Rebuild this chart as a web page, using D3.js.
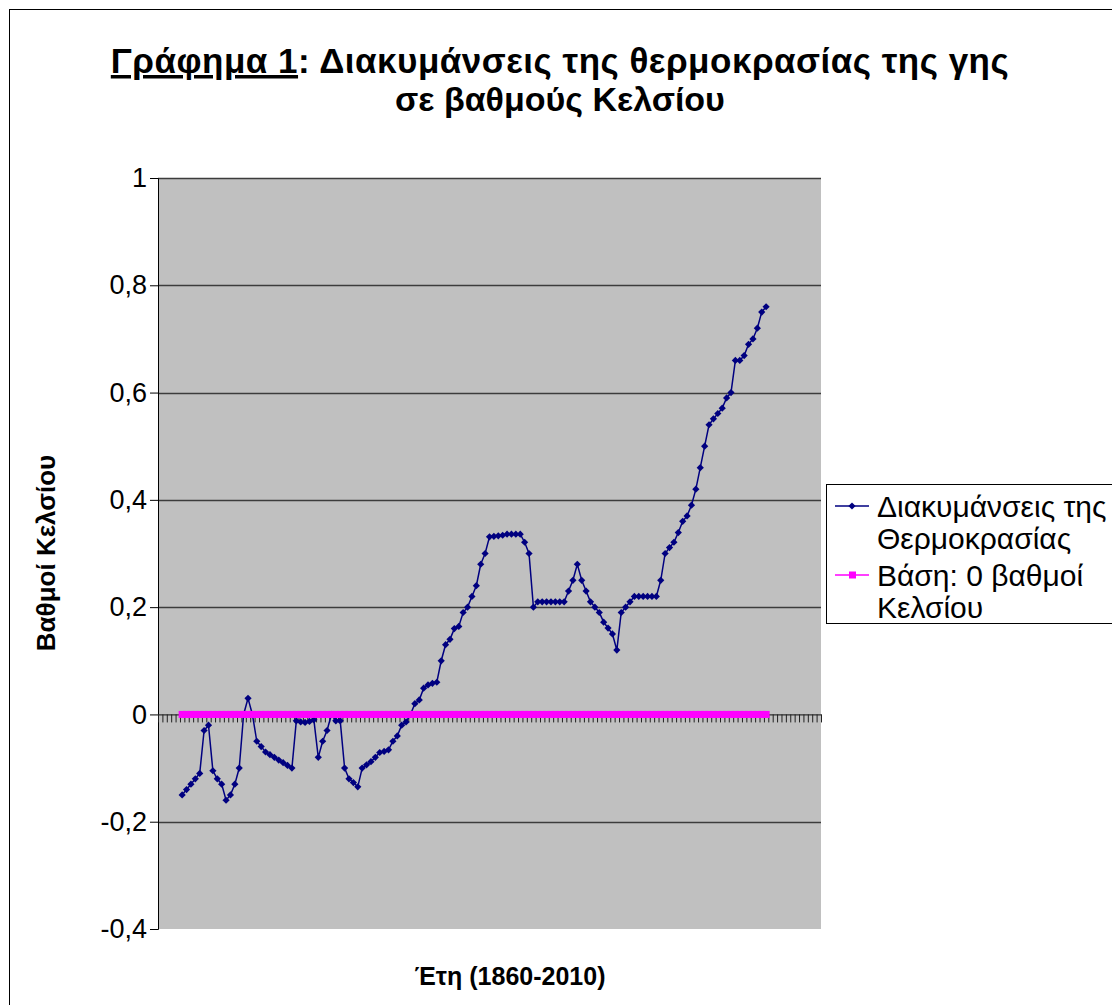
<!DOCTYPE html>
<html>
<head>
<meta charset="utf-8">
<script src="https://cdn.jsdelivr.net/npm/d3@7"></script>
<style>
    body { margin: 0; background: #fff; }
    svg text { font-family: "Liberation Sans", Arial, sans-serif; }
</style>
</head>
<body>
<div id="chart"></div>
<script>
// categories: years on the x axis
const years = d3.range(1860, 2011);
const firstDataYear = 1865;

// temperature deviations, one per year from 1865
const temps = [
    -0.15, -0.14, -0.13, -0.12, -0.11, -0.03, -0.02, -0.105, -0.12, -0.13,
    -0.16, -0.15, -0.13, -0.10, 0.0, 0.03, 0.0, -0.05, -0.06, -0.07,
    -0.075, -0.08, -0.085, -0.09, -0.095, -0.10, -0.012, -0.014, -0.015, -0.013,
    -0.01, -0.08, -0.05, -0.03, 0.0, -0.012, -0.012, -0.10, -0.12, -0.127,
    -0.135, -0.10, -0.094, -0.088, -0.08, -0.071, -0.069, -0.066, -0.05, -0.04,
    -0.02, -0.014, 0.0, 0.02, 0.027, 0.049, 0.055, 0.058, 0.06, 0.10,
    0.13, 0.14, 0.16, 0.164, 0.19, 0.20, 0.22, 0.24, 0.28, 0.30,
    0.331, 0.332, 0.333, 0.334, 0.336, 0.336, 0.336, 0.336, 0.321, 0.30,
    0.20, 0.21, 0.21, 0.21, 0.21, 0.21, 0.21, 0.21, 0.23, 0.25,
    0.28, 0.25, 0.23, 0.21, 0.20, 0.19, 0.172, 0.161, 0.15, 0.12,
    0.19, 0.20, 0.21, 0.22, 0.22, 0.22, 0.22, 0.22, 0.22, 0.25,
    0.30, 0.311, 0.321, 0.339, 0.36, 0.37, 0.39, 0.42, 0.46, 0.50,
    0.54, 0.551, 0.561, 0.571, 0.59, 0.60, 0.66, 0.66, 0.669, 0.69,
    0.70, 0.72, 0.75, 0.76
];

// base series: 0 degrees
const baseValue = 0;

const yTicks = [-0.4, -0.2, 0, 0.2, 0.4, 0.6, 0.8, 1];
const yTickLabels = ["-0,4", "-0,2", "0", "0,2", "0,4", "0,6", "0,8", "1"];

const titleUnderlined = "Γράφημα 1";
const titleRest = ": Διακυμάνσεις της θερμοκρασίας της γης";
const titleLine2 = "σε βαθμούς Κελσίου";
const yLabel = "Βαθμοί Κελσίου";
const xLabel = "Έτη (1860-2010)";
const legendLabels = [["Διακυμάνσεις της", "Θερμοκρασίας"], ["Βάση: 0 βαθμοί", "Κελσίου"]];

const width = 1112;
const height = 1005;
const plot = {left: 158, right: 821, top: 178, bottom: 929};

const svg = d3.select("#chart").append("svg")
    .attr("width", width)
    .attr("height", height);

// outer chart border
svg.append("rect")
    .attr("x", 9.5).attr("y", 9.5)
    .attr("width", 1200).attr("height", 1100)
    .attr("fill", "#fff")
    .attr("stroke", "#000");

const x = d3.scaleBand()
    .domain(years)
    .range([plot.left, plot.right]);

const xEdge = d3.scaleLinear()
    .domain([0, years.length])
    .range([plot.left, plot.right]);

const y = d3.scaleLinear()
    .domain([-0.4, 1])
    .range([plot.bottom, plot.top]);

// plot area
svg.append("rect")
    .attr("x", plot.left).attr("y", plot.top)
    .attr("width", plot.right - plot.left)
    .attr("height", plot.bottom - plot.top)
    .attr("fill", "#c0c0c0");

// gridlines
svg.append("g")
    .selectAll("line")
    .data(yTicks.filter(d => d !== 0 && d !== -0.4))
    .enter()
    .append("line")
    .attr("x1", plot.left).attr("x2", plot.right)
    .attr("y1", d => Math.round(y(d)) + 0.5)
    .attr("y2", d => Math.round(y(d)) + 0.5)
    .attr("stroke", "#3c3c3c")
    .attr("stroke-width", 1.5);

// y axis
const yAxis = svg.append("g")
    .attr("transform", `translate(${plot.left},0)`)
    .call(d3.axisLeft(y)
        .tickValues(yTicks)
        .tickSize(8)
        .tickPadding(3)
        .tickFormat((d, i) => yTickLabels[i]));
yAxis.select(".domain").attr("stroke", "#000");
yAxis.selectAll(".tick line").attr("stroke", "#000");
yAxis.selectAll("text")
    .attr("font-size", 27)
    .attr("fill", "#000")
    .style("font-family", "'Liberation Sans', Arial, sans-serif");

// x axis along zero with category tick marks
const xAxis = svg.append("g")
    .attr("transform", `translate(0,${y(0)})`)
    .call(d3.axisBottom(xEdge)
        .tickValues(d3.range(0, years.length + 1))
        .tickSize(8)
        .tickSizeOuter(0)
        .tickFormat(""));
xAxis.select(".domain").attr("stroke", "#303030").attr("stroke-width", 1.2);
xAxis.selectAll(".tick line").attr("stroke", "#202020");

const tempData = temps.map((v, i) => ({year: firstDataYear + i, value: v}));
const baseData = temps.map((v, i) => ({year: firstDataYear + i, value: baseValue}));

const cx = d => x(d.year) + x.bandwidth() / 2;

const line = d3.line()
    .x(cx)
    .y(d => y(d.value));

function diamondPath(r) {
    return `M0,${-r}L${r},0L0,${r}L${-r},0Z`;
}

// temperature series
svg.append("path")
    .datum(tempData)
    .attr("fill", "none")
    .attr("stroke", "#000080")
    .attr("stroke-width", 1.5)
    .attr("d", line);

svg.append("g")
    .selectAll("path")
    .data(tempData)
    .enter()
    .append("path")
    .attr("transform", d => `translate(${cx(d)},${y(d.value)})`)
    .attr("d", diamondPath(3.6))
    .attr("fill", "#000080");

// base series
svg.append("path")
    .datum(baseData)
    .attr("fill", "none")
    .attr("stroke", "#ff00ff")
    .attr("stroke-width", 2)
    .attr("d", line);

svg.append("g")
    .selectAll("rect")
    .data(baseData)
    .enter()
    .append("rect")
    .attr("x", d => cx(d) - 3.5)
    .attr("y", d => y(d.value) - 3.5)
    .attr("width", 7)
    .attr("height", 7)
    .attr("fill", "#ff00ff");

// title
const title = svg.append("text")
    .attr("x", 560)
    .attr("y", 73)
    .attr("text-anchor", "middle")
    .attr("font-size", 35)
    .attr("font-weight", "bold")
    .style("letter-spacing", "0.5px");
title.append("tspan")
    .style("text-decoration", "underline")
    .text(titleUnderlined);
title.append("tspan").text(titleRest);

svg.append("text")
    .attr("x", 560)
    .attr("y", 111)
    .attr("text-anchor", "middle")
    .attr("font-size", 34)
    .attr("font-weight", "bold")
    .text(titleLine2);

// axis titles
svg.append("text")
    .attr("transform", "translate(55,553) rotate(-90)")
    .attr("text-anchor", "middle")
    .attr("font-size", 26)
    .attr("font-weight", "bold")
    .text(yLabel);

svg.append("text")
    .attr("x", 510)
    .attr("y", 985)
    .attr("text-anchor", "middle")
    .attr("font-size", 25)
    .attr("font-weight", "bold")
    .text(xLabel);

// legend
const legend = svg.append("g");
legend.append("rect")
    .attr("x", 826.5).attr("y", 484.5)
    .attr("width", 300).attr("height", 139)
    .attr("fill", "#fff")
    .attr("stroke", "#000");

const legendY = [506, 575];
const legendColors = ["#000080", "#ff00ff"];

legendY.forEach((ly, i) => {
    legend.append("line")
        .attr("x1", 835).attr("x2", 869)
        .attr("y1", ly).attr("y2", ly)
        .attr("stroke", legendColors[i])
        .attr("stroke-width", 1.5);
    if (i === 0) {
        legend.append("path")
            .attr("transform", `translate(852,${ly})`)
            .attr("d", diamondPath(3.6))
            .attr("fill", legendColors[i]);
    } else {
        legend.append("rect")
            .attr("x", 849).attr("y", ly - 3.5)
            .attr("width", 7).attr("height", 7)
            .attr("fill", legendColors[i]);
    }
    legendLabels[i].forEach((t, j) => {
        legend.append("text")
            .attr("x", 877)
            .attr("y", ly + 11 + j * 32)
            .attr("font-size", 30)
            .text(t);
    });
});
</script>
</body>
</html>
